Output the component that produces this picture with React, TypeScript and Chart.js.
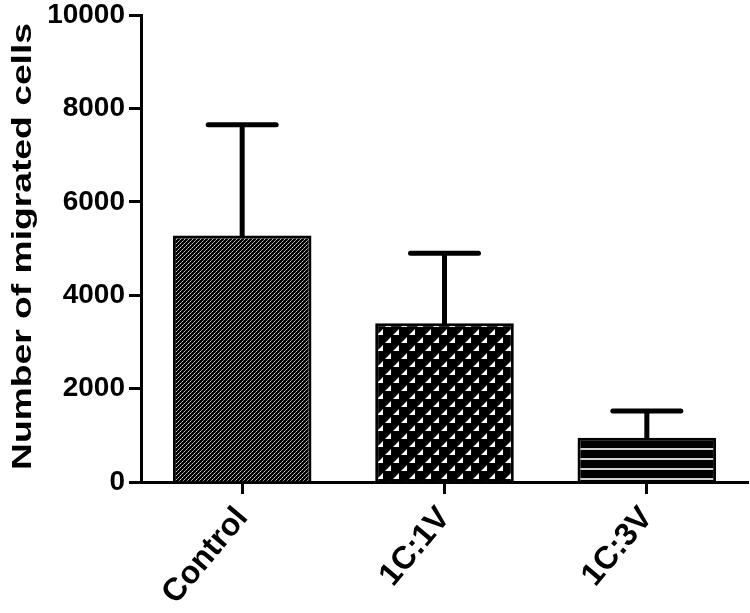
import React, { useEffect, useRef } from "react";
import { Chart, registerables } from "chart.js";
Chart.register(...registerables);

const categories = ["Control", "1C:1V", "1C:3V"];
const meanValues = [5280, 3400, 950];
const errorValues = [2370, 1500, 570];
const yTicks = [0, 2000, 4000, 6000, 8000, 10000];
const yTitle = "Number of migrated cells";

const FONT = "'Liberation Sans', Arial, sans-serif";

function makePattern(kind: string): CanvasPattern | string {
  const c = document.createElement("canvas");
  const ctx = c.getContext("2d");
  if (!ctx) return "#444";
  if (kind === "fine") {
    c.width = 4; c.height = 4;
    ctx.fillStyle = "#000"; ctx.fillRect(0, 0, 4, 4);
    for (let i = 0; i < 4; i++) {
      ctx.fillStyle = i % 2 === 0 ? "#c8c8c8" : "#8a8a8a";
      ctx.fillRect(i, 3 - i, 1, 1);
    }
  } else if (kind === "tri") {
    c.width = 16; c.height = 16;
    ctx.fillStyle = "#000"; ctx.fillRect(0, 0, 16, 16);
    ctx.fillStyle = "#fff";
    const tri = (x: number, y: number) => {
      ctx.beginPath();
      ctx.moveTo(x, y + 6);
      ctx.lineTo(x + 6, y + 6);
      ctx.lineTo(x + 6, y);
      ctx.closePath();
      ctx.fill();
    };
    tri(1, 1);
    tri(9, 9);
  } else {
    c.width = 10; c.height = 10;
    ctx.fillStyle = "#000"; ctx.fillRect(0, 0, 10, 10);
    ctx.fillStyle = "#cfcfcf"; ctx.fillRect(0, 8, 10, 2);
  }
  const p = ctx.createPattern(c, "repeat");
  return p || "#444";
}

export default function App() {
  const ref = useRef<HTMLCanvasElement>(null);
  useEffect(() => {
    if (!ref.current) return;
    const fills = [makePattern("fine"), makePattern("tri"), makePattern("lines")];

    const errorBars = {
      id: "errorBars",
      afterDatasetsDraw(chart: any) {
        const ctx = chart.ctx;
        const xs = chart.scales.x;
        const ys = chart.scales.y;
        ctx.save();
        ctx.strokeStyle = "#000";
        ctx.lineWidth = 5;
        ctx.lineCap = "round";
        meanValues.forEach((v, i) => {
          const x = xs.getPixelForValue(i);
          const y0 = ys.getPixelForValue(v);
          const y1 = ys.getPixelForValue(v + errorValues[i]);
          ctx.beginPath();
          ctx.moveTo(x, y0);
          ctx.lineTo(x, y1);
          ctx.moveTo(x - 34, y1);
          ctx.lineTo(x + 34, y1);
          ctx.stroke();
        });
        ctx.restore();
      },
    };

    const titlePlugin = {
      id: "yTitleStretched",
      afterDraw(chart: any) {
        const ctx = chart.ctx;
        ctx.save();
        ctx.font = `bold 27px ${FONT}`;
        ctx.fillStyle = "#000";
        const w = ctx.measureText(yTitle).width;
        const sx = 447 / w;
        ctx.translate(31, 246.5);
        ctx.rotate(-Math.PI / 2);
        ctx.scale(sx, 1);
        ctx.textAlign = "center";
        ctx.textBaseline = "alphabetic";
        ctx.fillText(yTitle, 0, 0);
        ctx.restore();
      },
    };

    const chart = new Chart(ref.current, {
      type: "bar",
      data: {
        labels: categories,
        datasets: [
          {
            data: meanValues,
            backgroundColor: fills as any,
            borderColor: "#000",
            borderWidth: 3,
            borderSkipped: "start",
            barPercentage: 0.685,
            categoryPercentage: 1,
          },
        ],
      },
      options: {
        animation: false,
        responsive: false,
        layout: { padding: { top: 15, right: 2, left: 0, bottom: 0 } },
        plugins: {
          legend: { display: false },
          tooltip: { enabled: false },
          title: { display: false },
        },
        scales: {
          x: {
            grid: {
              display: true,
              drawOnChartArea: false,
              offset: false,
              tickLength: 12,
              tickWidth: 3,
              tickColor: "#000",
            },
            border: { display: true, width: 3, color: "#000" },
            ticks: {
              color: "#000",
              font: { family: FONT, size: 32, weight: "bold" },
              minRotation: 50,
              maxRotation: 50,
              autoSkip: false,
              padding: 6,
            },
            afterFit: (s: any) => {
              s.height = 131;
              s.paddingLeft = 0;
              s.paddingRight = 0;
            },
          },
          y: {
            min: 0,
            max: 10000,
            afterBuildTicks: (s: any) => {
              s.ticks = yTicks.map((v) => ({ value: v }));
            },
            grid: {
              drawOnChartArea: false,
              tickLength: 12,
              tickWidth: 3,
              tickColor: "#000",
            },
            border: { display: true, width: 3, color: "#000" },
            ticks: {
              color: "#000",
              font: { family: FONT, size: 28, weight: "bold" },
              padding: 4,
              callback: (v: any) => String(v),
            },
            afterFit: (s: any) => {
              s.width = 141;
              s.paddingTop = 0;
              s.paddingBottom = 0;
            },
          },
        },
      },
      plugins: [errorBars, titlePlugin],
    });
    return () => chart.destroy();
  }, []);

  return (
    <div style={{ position: "absolute", left: 0, top: 0, width: 750, height: 613, background: "#fff" }}>
      <canvas ref={ref} width={750} height={613} style={{ display: "block" }} />
    </div>
  );
}
